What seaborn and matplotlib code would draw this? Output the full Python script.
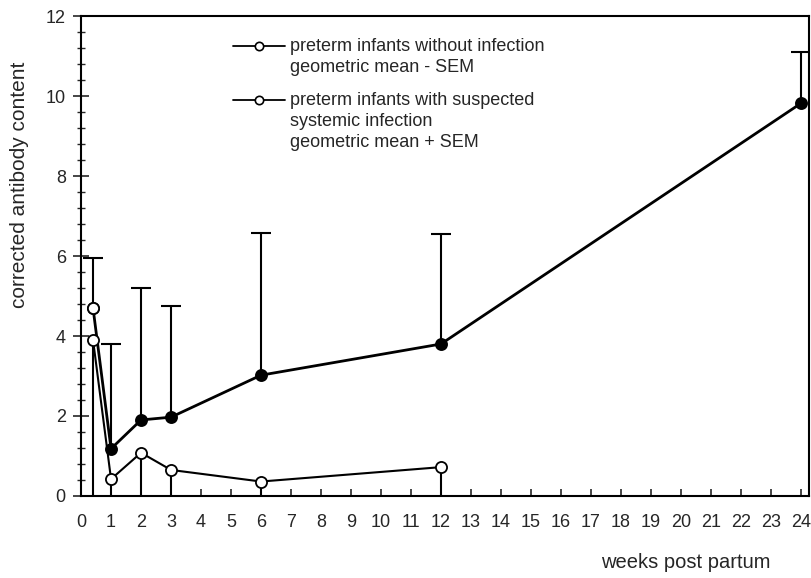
import numpy as np
import pandas as pd
import matplotlib
matplotlib.use('Agg')
import matplotlib.pyplot as plt
import seaborn as sns
from matplotlib.ticker import MultipleLocator

# weeks post partum
semanas = [0.4, 1, 2, 3, 6, 12, 24]

# preterm infants with suspected systemic infection (mean + SEM)
media_infec = [4.7, 1.18, 1.9, 1.97, 3.02, 3.8, 9.82]
sem_infec = [1.25, 2.62, 3.3, 2.78, 3.55, 2.75, 1.28]

# preterm infants without infection (mean - SEM)
semanas_sem = [0.4, 1, 2, 3, 6, 12]
media_sem = [3.9, 0.42, 1.08, 0.65, 0.36, 0.72]
sem_sem = [3.9, 0.42, 1.08, 0.65, 0.36, 0.72]

legenda_1 = ['preterm infants without infection', 'geometric mean - SEM']
legenda_2 = ['preterm infants with suspected', 'systemic infection', 'geometric mean + SEM']

df_infec = pd.DataFrame({'semana': semanas, 'valor': media_infec})
df_sem = pd.DataFrame({'semana': semanas_sem, 'valor': media_sem})

sns.set_style('ticks')
plt.rcParams['font.family'] = ['Liberation Sans', 'DejaVu Sans']

fig = plt.figure(figsize=(8.12, 5.78), dpi=100)
ax = fig.add_axes([0.0998, 0.142, 0.8965, 0.830])

# barras de erro (só para cima no grupo com infecção, só para baixo no outro)
topo = np.array(media_infec) + np.array(sem_infec)
ax.vlines(semanas, media_infec, topo, color='black', lw=1.5, zorder=2)
ax.plot(semanas, topo, ls='none', marker='_', ms=14, mew=1.5, color='black', zorder=2)
base = np.array(media_sem) - np.array(sem_sem)
ax.vlines(semanas_sem, base, media_sem, color='black', lw=1.5, zorder=2)

# linhas
sns.lineplot(data=df_infec, x='semana', y='valor', ax=ax, color='black', lw=2,
             marker='o', markersize=8, markerfacecolor='black', markeredgecolor='black',
             markeredgewidth=1.3, zorder=3)
sns.lineplot(data=df_sem, x='semana', y='valor', ax=ax, color='black', lw=1.5,
             marker='o', markersize=8, markerfacecolor='white', markeredgecolor='black',
             markeredgewidth=1.3, zorder=4)
# primeiro ponto do grupo com infecção aparece aberto
ax.plot(semanas[:1], media_infec[:1], 'o', ms=8, mfc='white', mec='black', mew=1.3, zorder=5)

ax.set_xlim(0, 24.27)
ax.set_ylim(0, 12)
ax.set_xticks(range(0, 25))
ax.yaxis.set_major_locator(MultipleLocator(2))
ax.yaxis.set_minor_locator(MultipleLocator(0.4))
ax.tick_params(axis='x', direction='in', length=5, width=1.2, pad=13, labelsize=13)
ax.tick_params(axis='y', which='major', direction='inout', length=12, width=1.2, pad=5, labelsize=13)
ax.tick_params(axis='y', which='minor', direction='inout', length=6, width=1.0)
for s in ax.spines.values():
    s.set_visible(True)
    s.set_linewidth(1.5)
    s.set_color('black')

ax.set_ylabel('corrected antibody content', fontsize=15, va='center')
ax.yaxis.set_label_coords(-0.085, 0.648)
ax.set_xlabel('weeks post partum', fontsize=14.5, va='center')
ax.xaxis.set_label_coords(0.831, -0.139)

# legenda manual
def entrada(y0, linhas):
    ax.plot([0.209, 0.28], [y0, y0], transform=ax.transAxes, color='black', lw=1.3)
    ax.plot([0.2445], [y0], 'o', transform=ax.transAxes, ms=6, mfc='white', mec='black', mew=1.2)
    for i, t in enumerate(linhas):
        ax.text(0.287, y0 - i * 0.0445, t, transform=ax.transAxes, fontsize=13,
                va='center', ha='left')

entrada(0.9375, legenda_1)
entrada(0.825, legenda_2)

plt.savefig('out.png', dpi=100)
